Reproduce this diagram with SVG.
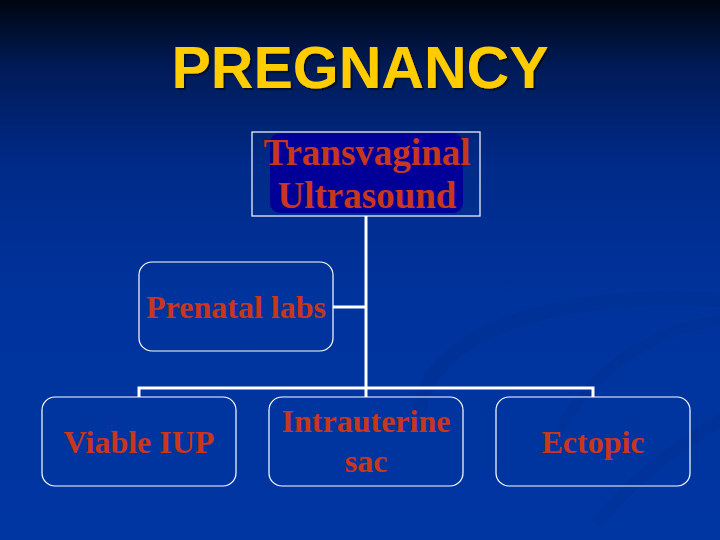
<svg xmlns="http://www.w3.org/2000/svg" width="720" height="540" viewBox="0 0 720 540">
<defs>
<linearGradient id="bg" x1="0" y1="0" x2="0" y2="1">
<stop offset="0" stop-color="#000510"/>
<stop offset="0.12" stop-color="#001a55"/>
<stop offset="0.3" stop-color="#002a88"/>
<stop offset="0.55" stop-color="#00339c"/>
<stop offset="1" stop-color="#0036a2"/>
</linearGradient>
<filter id="shadow" x="-10%" y="-20%" width="120%" height="150%">
<feDropShadow dx="2" dy="2" stdDeviation="0.5" flood-color="#000820" flood-opacity="0.9"/>
</filter>
<style>
.box{fill:none;stroke:#ffffff;stroke-width:1.2}
.lbl{font-family:"Liberation Serif","Times New Roman",serif;font-weight:bold;fill:#c8361c;text-anchor:middle}
.conn{fill:none;stroke:#ffffff;stroke-width:3}
</style>
</defs>
<rect x="0" y="0" width="720" height="540" fill="url(#bg)"/>
<g id="swoosh" fill="none" stroke="#002f90" stroke-linecap="round">
<path d="M420 410 C430 330 560 290 720 300" stroke-width="14" opacity="0.45"/>
<path d="M560 430 C600 360 660 330 720 320" stroke-width="10" opacity="0.4"/>
<path d="M600 520 C640 470 690 440 720 420" stroke-width="12" opacity="0.35"/>
</g>
<g id="title">
<text x="360" y="88" font-family="Liberation Sans, Arial, sans-serif" font-weight="bold" font-size="59" fill="#ffcc00" text-anchor="middle" filter="url(#shadow)">PREGNANCY</text>
</g>
<g id="connectors">
<path class="conn" d="M366 216 V388"/>
<path class="conn" d="M333 307 H366"/>
<path class="conn" d="M139 397 V388 H593 V397"/>
<path class="conn" d="M366 388 V397"/>
</g>
<g id="n_tvus">
<rect x="270" y="133" width="193" height="80" rx="10" fill="#000099"/>
<rect class="box" x="252" y="132" width="228" height="84"/>
<text class="lbl" x="367" y="165" font-size="37">Transvaginal</text>
<text class="lbl" x="367" y="208" font-size="37">Ultrasound</text>
</g>
<g id="n_prenatal">
<rect class="box" x="139" y="262" width="194" height="89" rx="13"/>
<text class="lbl" x="236" y="318" font-size="32">Prenatal labs</text>
</g>
<g id="n_viable">
<rect class="box" x="42" y="397" width="194" height="89" rx="13"/>
<text class="lbl" x="139" y="453" font-size="32">Viable IUP</text>
</g>
<g id="n_sac">
<rect class="box" x="269" y="397" width="194" height="89" rx="13"/>
<text class="lbl" x="366" y="432" font-size="32">Intrauterine</text>
<text class="lbl" x="366" y="472" font-size="32">sac</text>
</g>
<g id="n_ectopic">
<rect class="box" x="496" y="397" width="194" height="89" rx="13"/>
<text class="lbl" x="593" y="453" font-size="32">Ectopic</text>
</g>
</svg>
